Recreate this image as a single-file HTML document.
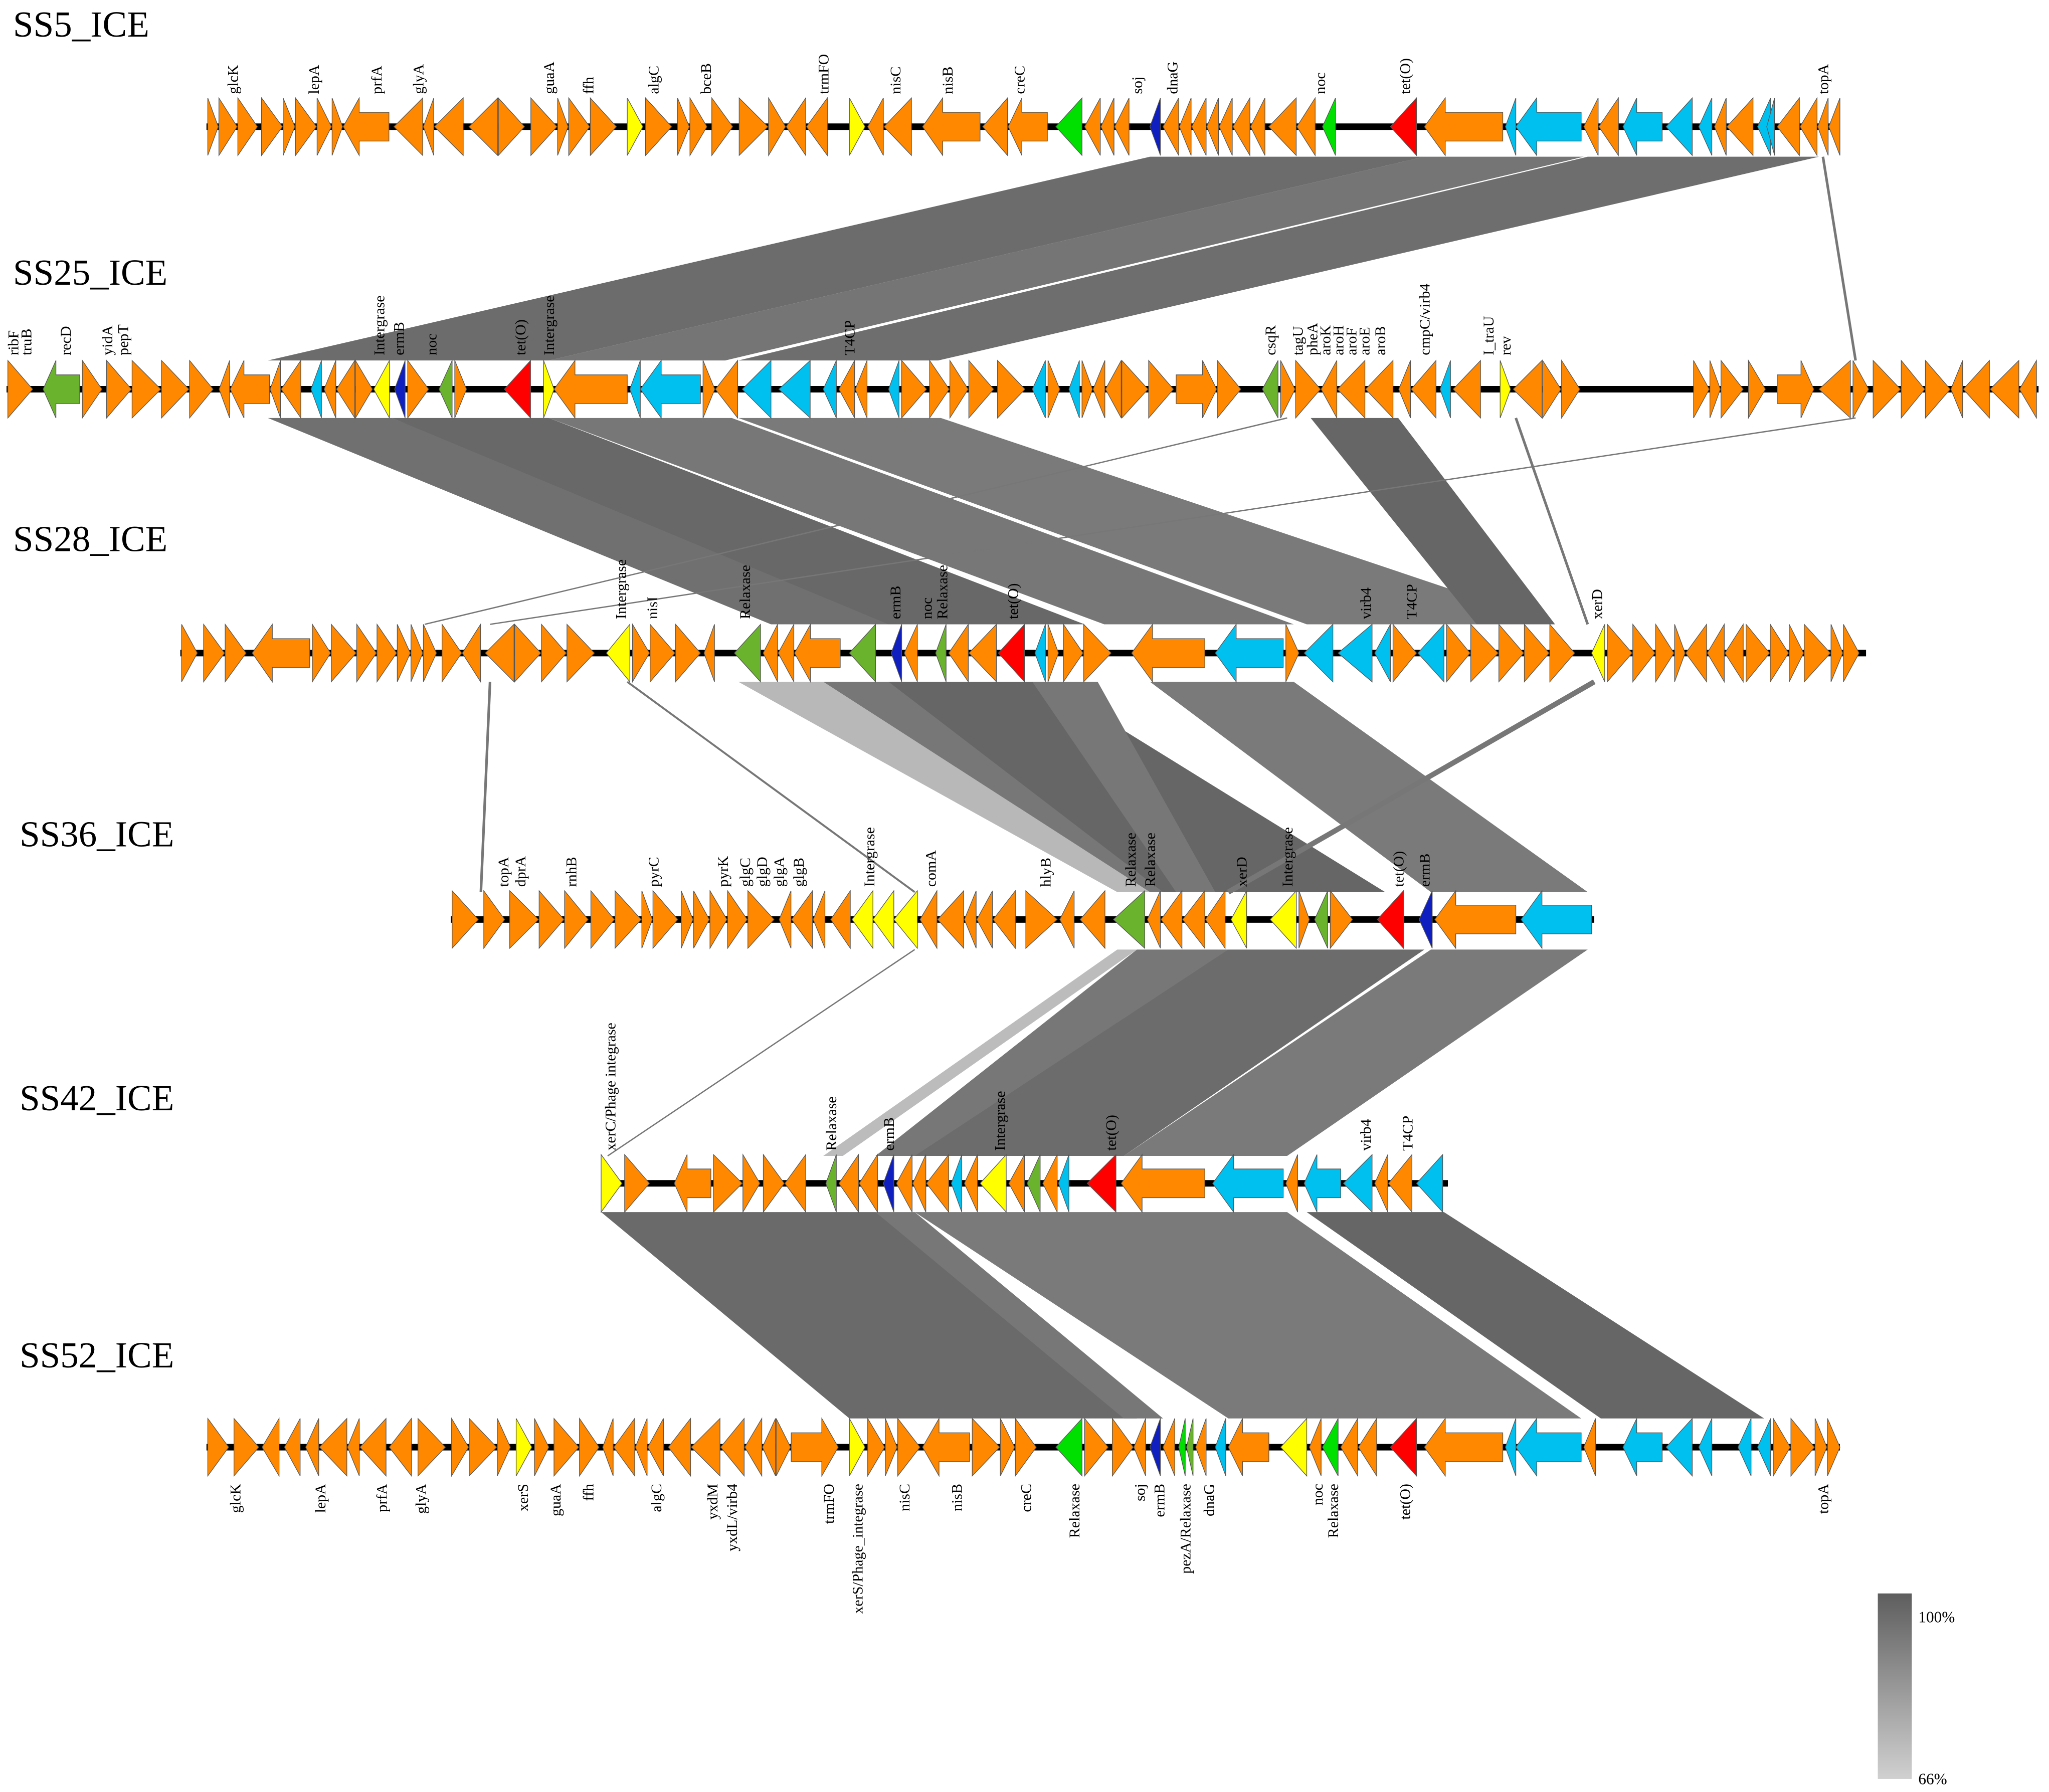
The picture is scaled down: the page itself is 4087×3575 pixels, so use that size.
<!DOCTYPE html>
<html><head><meta charset="utf-8"><style>
html,body{margin:0;padding:0;background:#fff;}
svg{display:block;}
text{font-family:"Liberation Serif",serif;}
.lb{font-size:11px;fill:#000;}
.tn{font-size:28px;fill:#000;}
</style></head><body>
<svg id="s" xmlns="http://www.w3.org/2000/svg" width="4087" height="3575" viewBox="0 0 1568 1372" preserveAspectRatio="none">
<defs><linearGradient id="lg" x1="0" y1="0" x2="0" y2="1"><stop offset="0" stop-color="#5e5e5e"/><stop offset="1" stop-color="#d0d0d0"/></linearGradient></defs>
<g id="bands">
<polygon points="880,120 1090,120 420,276 205,276" fill="#6c6c6c"/>
<polygon points="1090,120 1212,120 555,276 420,276" fill="#757575"/>
<polygon points="1215,120 1392,120 718,276 565,276" fill="#6e6e6e"/>
<line x1="1395" y1="120" x2="1420" y2="276" stroke="#777" stroke-width="2"/>
<polygon points="205,320 300,320 690,478 590,478" fill="#707070"/>
<polygon points="300,320 420,320 830,478 680,478" fill="#686868"/>
<polygon points="420,320 560,320 990,478 845,478" fill="#777"/>
<polygon points="565,320 720,320 1190,478 1000,478" fill="#7a7a7a"/>
<polygon points="1003,320 1070,320 1190,478 1130,478" fill="#666"/>
<line x1="985" y1="320" x2="325" y2="478" stroke="#777" stroke-width="1"/>
<line x1="1420" y1="320" x2="375" y2="478" stroke="#777" stroke-width="1"/>
<line x1="1160" y1="320" x2="1215" y2="478" stroke="#777" stroke-width="2"/>
<polygon points="565,522 630,522 880,683 855,683" fill="#b8b8b8"/>
<polygon points="630,522 690,522 920,683 880,683" fill="#777"/>
<polygon points="680,522 800,522 1060,683 890,683" fill="#666"/>
<polygon points="790,522 840,522 930,683 900,683" fill="#777"/>
<polygon points="880,522 990,522 1215,683 1095,683" fill="#7a7a7a"/>
<line x1="1220" y1="522" x2="940" y2="683" stroke="#777" stroke-width="4"/>
<line x1="375" y1="522" x2="368" y2="683" stroke="#777" stroke-width="2"/>
<line x1="480" y1="522" x2="700" y2="683" stroke="#777" stroke-width="1.5"/>
<polygon points="855,727 870,727 645,885 630,885" fill="#bcbcbc"/>
<polygon points="870,727 940,727 770,885 670,885" fill="#777"/>
<polygon points="940,727 1090,727 860,885 700,885" fill="#6c6c6c"/>
<polygon points="1095,727 1215,727 985,885 860,885" fill="#7a7a7a"/>
<line x1="700" y1="727" x2="465" y2="885" stroke="#777" stroke-width="1"/>
<polygon points="460,928 670,928 870,1086 650,1086" fill="#6a6a6a"/>
<polygon points="670,928 700,928 890,1086 860,1086" fill="#777"/>
<polygon points="700,928 985,928 1210,1086 940,1086" fill="#7a7a7a"/>
<polygon points="1000,928 1105,928 1350,1086 1225,1086" fill="#666"/>
</g>
<g id="genes"></g>
<g>
<text class="tn" x="10" y="28">SS5_ICE</text>
<text class="tn" x="10" y="218">SS25_ICE</text>
<text class="tn" x="10" y="422">SS28_ICE</text>
<text class="tn" x="15" y="648">SS36_ICE</text>
<text class="tn" x="15" y="850">SS42_ICE</text>
<text class="tn" x="15" y="1047">SS52_ICE</text>
</g>
<rect x="1437" y="1220" width="26" height="142" fill="url(#lg)"/>
<text class="lb" x="1468" y="1242" style="font-size:12px">100%</text>
<text class="lb" x="1468" y="1366" style="font-size:12px">66%</text>
</svg>
<script>
(function(){
var NS="http://www.w3.org/2000/svg";
var G=document.getElementById('genes');
var OR="#ff8800",CY="#00c0f0",GR="#6ab42d",BG="#00e000",YE="#ffff00",RD="#ff0000",DB="#1020c0";
function el(t,a){var e=document.createElementNS(NS,t);for(var k in a)e.setAttribute(k,a[k]);G.appendChild(e);return e;}
function gene(x,w,y,dir,col){
  var h=22,pts;
  if(w<=26){
    pts=dir>0?[[x,y-h],[x+w,y],[x,y+h]]:[[x+w,y-h],[x,y],[x+w,y+h]];
  }else{
    var hd=Math.min(16,w*0.35),b=11;
    if(dir>0)pts=[[x,y-b],[x+w-hd,y-b],[x+w-hd,y-h],[x+w,y],[x+w-hd,y+h],[x+w-hd,y+b],[x,y+b]];
    else pts=[[x+w,y-b],[x+hd,y-b],[x+hd,y-h],[x,y],[x+hd,y+h],[x+hd,y+b],[x+w,y+b]];
  }
  el('polygon',{points:pts.map(function(p){return p.join(',')}).join(' '),fill:col,stroke:'#555','stroke-width':0.5});
}
var seed=11;function rnd(){seed=(seed*16807)%2147483647;return seed/2147483647;}
var tracks=[
 {y:97,x0:158,x1:1408,gaps:[],sp:[[480,12,1,YE],[650,12,1,YE],[706,44,-1,OR],[808,20,-1,BG],[880,8,-1,DB],[1012,10,-1,BG],[1064,20,-1,RD],[1090,60,-1,OR],[1152,8,-1,CY],[1160,50,-1,CY],[1242,30,-1,CY],[1275,20,-1,CY],[1300,10,-1,CY],[1345,10,-1,CY],[1352,6,-1,CY]]},
 {y:298,x0:5,x1:1560,gaps:[[1210,1295]],sp:[[33,28,-1,GR],[238,8,-1,CY],[286,12,-1,YE],[302,8,-1,DB],[336,10,-1,GR],[386,20,-1,RD],[416,8,1,YE],[424,56,-1,OR],[482,8,-1,CY],[490,46,-1,CY],[568,22,-1,CY],[596,24,-1,CY],[630,10,-1,CY],[680,8,-1,CY],[790,10,-1,CY],[818,8,-1,CY],[966,12,-1,GR],[1102,8,-1,CY],[1148,8,1,YE],[1360,28,1,OR],[1392,24,-1,OR]]},
 {y:500,x0:138,x1:1428,gaps:[],sp:[[193,44,-1,OR],[464,18,-1,YE],[562,20,-1,GR],[650,20,-1,GR],[682,8,-1,DB],[716,8,-1,GR],[764,20,-1,RD],[792,8,-1,CY],[866,56,-1,OR],[930,52,-1,CY],[998,22,-1,CY],[1024,26,-1,CY],[1052,12,-1,CY],[1085,20,-1,CY],[1218,10,-1,YE]]},
 {y:704,x0:345,x1:1220,gaps:[],sp:[[652,16,-1,YE],[668,16,-1,YE],[684,18,-1,YE],[785,24,1,OR],[852,24,-1,GR],[942,12,-1,YE],[972,20,-1,YE],[1006,10,-1,GR],[1054,20,-1,RD],[1086,10,-1,DB],[1098,62,-1,OR],[1164,54,-1,CY]]},
 {y:906,x0:460,x1:1108,gaps:[],sp:[[460,16,1,YE],[516,28,-1,OR],[632,8,-1,GR],[676,8,-1,DB],[728,8,-1,CY],[750,20,-1,YE],[786,10,-1,GR],[810,8,-1,CY],[832,22,-1,RD],[858,64,-1,OR],[928,54,-1,CY],[998,28,-1,CY],[1028,22,-1,CY],[1084,20,-1,CY]]},
 {y:1108,x0:158,x1:1408,gaps:[],sp:[[395,12,1,YE],[650,12,1,YE],[706,36,-1,OR],[808,20,-1,BG],[880,8,-1,DB],[902,5,-1,BG],[908,5,-1,GR],[930,8,-1,CY],[980,20,-1,YE],[1012,12,-1,BG],[1064,20,-1,RD],[1090,60,-1,OR],[1152,8,-1,CY],[1160,50,-1,CY],[1242,30,-1,CY],[1275,20,-1,CY],[1300,10,-1,CY],[1330,10,-1,CY],[1345,10,-1,CY]]}
];
tracks.forEach(function(t){
  el('line',{x1:t.x0,y1:t.y,x2:t.x1,y2:t.y,stroke:'#000','stroke-width':5});
  var occ=t.sp.map(function(s){return [s[0]-1,s[0]+s[1]+1]}).concat(t.gaps);
  var x=t.x0+1,dir=1,run=0;
  while(x<t.x1-5){
    var w=8+Math.floor(rnd()*15);if(rnd()<0.02)w=30+Math.floor(rnd()*14);
    if(x+w>t.x1)w=t.x1-x;
    var bad=false;for(var i=0;i<occ.length;i++){if(x<occ[i][1]&&x+w>occ[i][0]){bad=true;x=occ[i][1]+1;break;}}
    if(bad)continue;
    if(run<=0){dir=rnd()<0.5?1:-1;run=2+Math.floor(rnd()*6);}run--;
    gene(x,w,t.y,dir,OR);
    x+=w+(rnd()<0.25?2+rnd()*3:0.5);
  }
  t.sp.forEach(function(s){gene(s[0],s[1],t.y,s[2],s[3]);});
});
})();
</script>
<svg id="lbl" xmlns="http://www.w3.org/2000/svg" width="4087" height="3575" viewBox="0 0 1568 1372" preserveAspectRatio="none" style="position:absolute;left:0;top:0">
<g font-family="Liberation Serif, serif" font-size="11.5">
<g transform="translate(0,72)">
<text transform="translate(182,0) rotate(-90)">glcK</text>
<text transform="translate(244,0) rotate(-90)">lepA</text>
<text transform="translate(292,0) rotate(-90)">prfA</text>
<text transform="translate(324,0) rotate(-90)">glyA</text>
<text transform="translate(424,0) rotate(-90)">guaA</text>
<text transform="translate(454,0) rotate(-90)">ffh</text>
<text transform="translate(504,0) rotate(-90)">algC</text>
<text transform="translate(544,0) rotate(-90)">bceB</text>
<text transform="translate(634,0) rotate(-90)">trmFO</text>
<text transform="translate(689,0) rotate(-90)">nisC</text>
<text transform="translate(729,0) rotate(-90)">nisB</text>
<text transform="translate(784,0) rotate(-90)">creC</text>
<text transform="translate(874,0) rotate(-90)">soj</text>
<text transform="translate(901,0) rotate(-90)">dnaG</text>
<text transform="translate(1014,0) rotate(-90)">noc</text>
<text transform="translate(1079,0) rotate(-90)">tet(O)</text>
<text transform="translate(1399,0) rotate(-90)">topA</text>
</g>
<g transform="translate(0,272)">
<text transform="translate(14,0) rotate(-90)">ribF</text>
<text transform="translate(24,0) rotate(-90)">truB</text>
<text transform="translate(54,0) rotate(-90)">recD</text>
<text transform="translate(86,0) rotate(-90)">yidA</text>
<text transform="translate(98,0) rotate(-90)">pepT</text>
<text transform="translate(294,0) rotate(-90)">Intergrase</text>
<text transform="translate(309,0) rotate(-90)">ermB</text>
<text transform="translate(334,0) rotate(-90)">noc</text>
<text transform="translate(402,0) rotate(-90)">tet(O)</text>
<text transform="translate(424,0) rotate(-90)">Intergrase</text>
<text transform="translate(654,0) rotate(-90)">T4CP</text>
<text transform="translate(976,0) rotate(-90)">csqR</text>
<text transform="translate(997,0) rotate(-90)">tagU</text>
<text transform="translate(1008,0) rotate(-90)">pheA</text>
<text transform="translate(1018,0) rotate(-90)">aroK</text>
<text transform="translate(1028,0) rotate(-90)">aroH</text>
<text transform="translate(1038,0) rotate(-90)">aroF</text>
<text transform="translate(1048,0) rotate(-90)">aroE</text>
<text transform="translate(1060,0) rotate(-90)">aroB</text>
<text transform="translate(1094,0) rotate(-90)">cmpC/virb4</text>
<text transform="translate(1143,0) rotate(-90)">I_traU</text>
<text transform="translate(1156,0) rotate(-90)">rev</text>
</g>
<g transform="translate(0,474)">
<text transform="translate(479,0) rotate(-90)">Intergrase</text>
<text transform="translate(503,0) rotate(-90)">nisI</text>
<text transform="translate(574,0) rotate(-90)">Relaxase</text>
<text transform="translate(689,0) rotate(-90)">ermB</text>
<text transform="translate(713,0) rotate(-90)">noc</text>
<text transform="translate(725,0) rotate(-90)">Relaxase</text>
<text transform="translate(779,0) rotate(-90)">tet(O)</text>
<text transform="translate(1049,0) rotate(-90)">virb4</text>
<text transform="translate(1084,0) rotate(-90)">T4CP</text>
<text transform="translate(1226,0) rotate(-90)">xerD</text>
</g>
<g transform="translate(0,679)">
<text transform="translate(389,0) rotate(-90)">topA</text>
<text transform="translate(402,0) rotate(-90)">dprA</text>
<text transform="translate(441,0) rotate(-90)">rnhB</text>
<text transform="translate(504,0) rotate(-90)">pyrC</text>
<text transform="translate(557,0) rotate(-90)">pyrK</text>
<text transform="translate(574,0) rotate(-90)">glgC</text>
<text transform="translate(587,0) rotate(-90)">glgD</text>
<text transform="translate(600,0) rotate(-90)">glgA</text>
<text transform="translate(615,0) rotate(-90)">glgB</text>
<text transform="translate(669,0) rotate(-90)">Intergrase</text>
<text transform="translate(716,0) rotate(-90)">comA</text>
<text transform="translate(804,0) rotate(-90)">hlyB</text>
<text transform="translate(869,0) rotate(-90)">Relaxase</text>
<text transform="translate(884,0) rotate(-90)">Relaxase</text>
<text transform="translate(954,0) rotate(-90)">xerD</text>
<text transform="translate(989,0) rotate(-90)">Intergrase</text>
<text transform="translate(1074,0) rotate(-90)">tet(O)</text>
<text transform="translate(1094,0) rotate(-90)">ermB</text>
</g>
<g transform="translate(0,881)">
<text transform="translate(471,0) rotate(-90)">xerC/Phage integrase</text>
<text transform="translate(640,0) rotate(-90)">Relaxase</text>
<text transform="translate(684,0) rotate(-90)">ermB</text>
<text transform="translate(769,0) rotate(-90)">Intergrase</text>
<text transform="translate(854,0) rotate(-90)">tet(O)</text>
<text transform="translate(1049,0) rotate(-90)">virb4</text>
<text transform="translate(1081,0) rotate(-90)">T4CP</text>
</g>
<g transform="translate(0,1136)" text-anchor="end">
<text transform="translate(184,0) rotate(-90)">glcK</text>
<text transform="translate(249,0) rotate(-90)">lepA</text>
<text transform="translate(296,0) rotate(-90)">prfA</text>
<text transform="translate(326,0) rotate(-90)">glyA</text>
<text transform="translate(404,0) rotate(-90)">xerS</text>
<text transform="translate(429,0) rotate(-90)">guaA</text>
<text transform="translate(454,0) rotate(-90)">ffh</text>
<text transform="translate(506,0) rotate(-90)">algC</text>
<text transform="translate(549,0) rotate(-90)">yxdM</text>
<text transform="translate(564,0) rotate(-90)">yxdL/virb4</text>
<text transform="translate(638,0) rotate(-90)">trmFO</text>
<text transform="translate(660,0) rotate(-90)">xerS/Phage_integrase</text>
<text transform="translate(696,0) rotate(-90)">nisC</text>
<text transform="translate(736,0) rotate(-90)">nisB</text>
<text transform="translate(789,0) rotate(-90)">creC</text>
<text transform="translate(826,0) rotate(-90)">Relaxase</text>
<text transform="translate(876,0) rotate(-90)">soj</text>
<text transform="translate(891,0) rotate(-90)">ermB</text>
<text transform="translate(911,0) rotate(-90)">pezA/Relaxase</text>
<text transform="translate(929,0) rotate(-90)">dnaG</text>
<text transform="translate(1012,0) rotate(-90)">noc</text>
<text transform="translate(1024,0) rotate(-90)">Relaxase</text>
<text transform="translate(1079,0) rotate(-90)">tet(O)</text>
<text transform="translate(1399,0) rotate(-90)">topA</text>
</g>
</g>
</svg>
</body></html>
